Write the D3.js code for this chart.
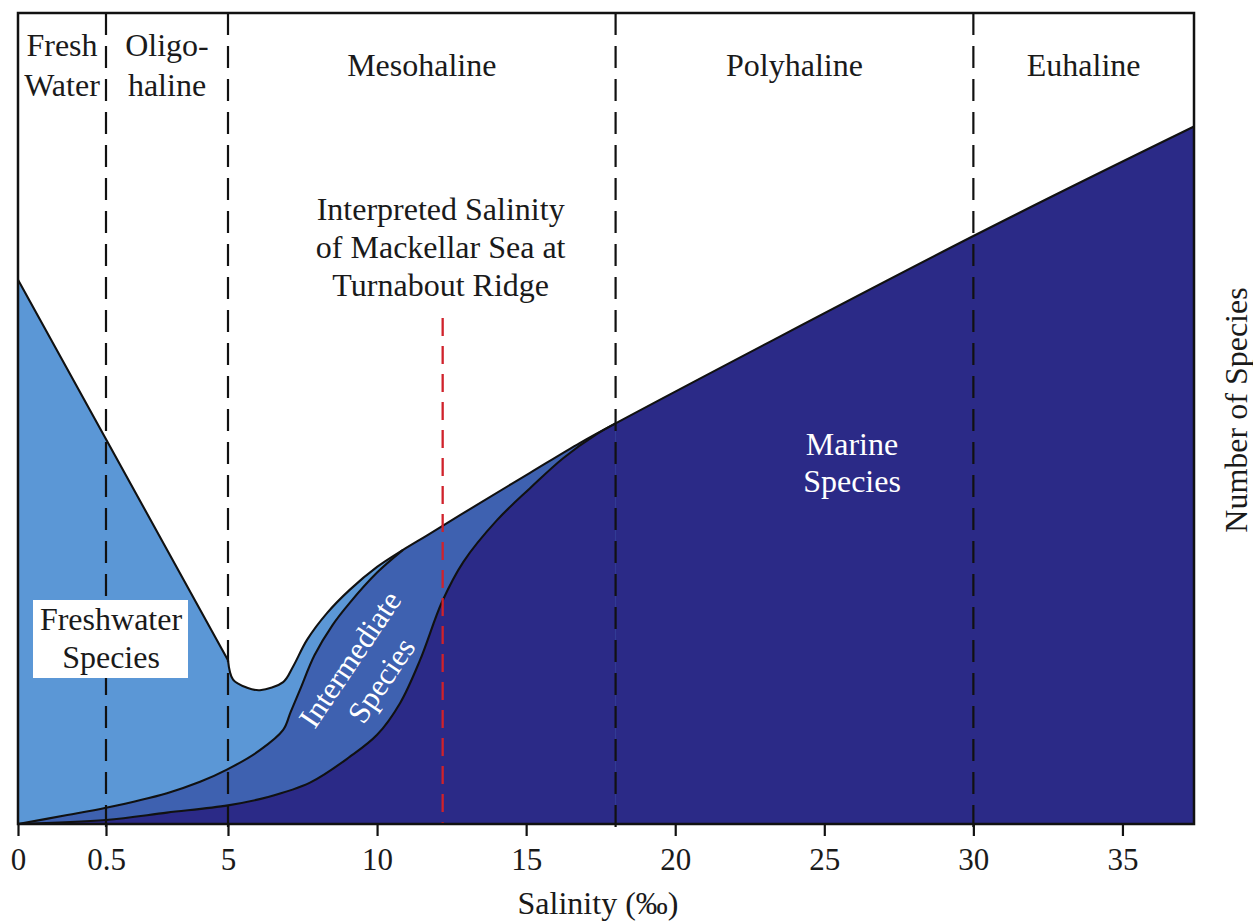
<!DOCTYPE html>
<html>
<head>
<meta charset="utf-8">
<script src="https://cdn.jsdelivr.net/npm/d3@7"></script>
<style>
  body { margin: 0; background: #fff; }
  svg text { font-family: "Liberation Serif", "Times New Roman", serif; fill: #1a1a1a; }
</style>
</head>
<body>
<svg id="chart"></svg>
<script>
// salinity (per mil) against number of species (relative units, the original has no y scale)
const ticks = [0, 0.5, 5, 10, 15, 20, 25, 30, 35];
const zoneEdges = [0, 0.5, 5, 18, 30, 37.4];
const zoneNames = [["Fresh", "Water"], ["Oligo-", "haline"], ["Mesohaline"], ["Polyhaline"], ["Euhaline"]];

// top curve, all species: straight decline to 5 then the curved rise
const allDecline = [[0, 67.1], [5, 20.2]];
const allRise = [[5, 20.2], [5.17, 17.8], [5.64, 16.8], [6.07, 16.5], [6.85, 17.5], [7.18, 19.4], [7.65, 22.7],
  [8.32, 26.0], [9.09, 28.9], [10.0, 31.7], [10.87, 33.8], [11.68, 35.6], [13.46, 39.6], [15.13, 43.3],
  [16.81, 47.0], [18, 49.4], [30, 72.5], [37.4, 86.0]];
// freshwater / intermediate boundary
const freshLimit = [[0, 0], [0.28, 1.1], [0.5, 2.0], [2.75, 3.8], [3.97, 5.2], [4.96, 6.7], [6.07, 9.1],
  [6.85, 11.6], [7.1, 13.8], [7.42, 16.6], [7.9, 20.8], [8.5, 24.5], [9.09, 27.3], [10.0, 31.0], [10.87, 33.8]];
// intermediate / marine boundary
const marineLimit = [[0, 0], [0.5, 0.5], [2.75, 1.4], [5, 2.3], [6.31, 3.3], [7.75, 5.1], [9.09, 8.3],
  [10.0, 11.0], [10.77, 14.9], [11.44, 20.2], [12.18, 27.4], [12.89, 32.3], [14.03, 37.5], [15.13, 41.4],
  [16.24, 45.1], [17.38, 48.1], [18, 49.4]];

const markerSalinity = 12.2;
const markerTop = 62.4;

const W = 1253, H = 921;
const pLeft = 18, pRight = 1194, pTop = 13, pBottom = 824;

const svg = d3.select('#chart').attr('width', W).attr('height', H);

const x = d3.scaleLinear().domain([0, 0.5, 5, 37.4]).range([pLeft, 106, 228, pRight]);
const y = d3.scaleLinear().domain([0, 100]).range([pBottom, pTop]);

const straight = d3.line().x(d => x(d[0])).y(d => y(d[1]));
const smooth = d3.line().x(d => x(d[0])).y(d => y(d[1])).curve(d3.curveCatmullRom.alpha(0.5));
const area = d3.area().x(d => x(d[0])).y0(y(0)).y1(d => y(d[1])).curve(d3.curveCatmullRom.alpha(0.5));

const topLine = straight(allDecline) + smooth(allRise).replace(/^M/, 'L');
const lastS = allRise[allRise.length - 1][0];
const topArea = topLine + `L${x(lastS)},${y(0)}L${x(0)},${y(0)}Z`;

const light = '#5b97d6', mid = '#3e61b0', dark = '#2b2a87';

// fills, everything clipped under the top curve
svg.append('clipPath').attr('id', 'under-all')
    .append('path').attr('d', topArea);

const fills = svg.append('g').attr('clip-path', 'url(#under-all)');
fills.append('rect')
    .attr('x', pLeft).attr('y', pTop).attr('width', pRight - pLeft).attr('height', pBottom - pTop)
    .attr('fill', light);
fills.append('path').attr('d', area(freshLimit)).attr('fill', mid);

const joinFresh = freshLimit[freshLimit.length - 1][0];
const joinMarine = marineLimit[marineLimit.length - 1][0];
fills.append('rect')
    .attr('x', x(joinFresh)).attr('y', pTop)
    .attr('width', x(joinMarine) - x(joinFresh)).attr('height', pBottom - pTop)
    .attr('fill', mid);
fills.append('path').attr('d', area(marineLimit)).attr('fill', dark);
fills.append('rect')
    .attr('x', x(joinMarine)).attr('y', pTop)
    .attr('width', pRight - x(joinMarine)).attr('height', pBottom - pTop)
    .attr('fill', dark);

// outlines
[topLine, smooth(freshLimit), smooth(marineLimit)].forEach(d => {
    svg.append('path')
        .attr('d', d)
        .attr('fill', 'none')
        .attr('stroke', '#111')
        .attr('stroke-width', 2.1)
        .attr('stroke-linejoin', 'round');
});

// zone boundaries
svg.selectAll('.zone-line')
    .data(zoneEdges.slice(1, -1))
    .enter()
    .append('line')
    .attr('class', 'zone-line')
    .attr('x1', d => x(d)).attr('x2', d => x(d))
    .attr('y1', pTop).attr('y2', pBottom + 12)
    .attr('stroke', '#111')
    .attr('stroke-width', 2.2)
    .attr('stroke-dasharray', '22,11');

// interpreted salinity marker
svg.append('line')
    .attr('x1', x(markerSalinity)).attr('x2', x(markerSalinity))
    .attr('y1', y(markerTop)).attr('y2', y(0))
    .attr('stroke', '#d0222b')
    .attr('stroke-width', 2.3)
    .attr('stroke-dasharray', '18,10');

// axis
const axis = svg.append('g')
    .attr('transform', `translate(0,${pBottom})`)
    .call(d3.axisBottom(x).tickValues(ticks).tickFormat(d => d).tickSize(12).tickPadding(12));
axis.select('.domain').remove();
axis.selectAll('.tick line').attr('stroke', '#111').attr('stroke-width', 2.2);
axis.selectAll('.tick text')
    .style('font-family', '"Liberation Serif", "Times New Roman", serif')
    .style('font-size', '31px')
    .attr('fill', '#1a1a1a');

// frame
svg.append('rect')
    .attr('x', pLeft).attr('y', pTop).attr('width', pRight - pLeft).attr('height', pBottom - pTop)
    .attr('fill', 'none')
    .attr('stroke', '#111')
    .attr('stroke-width', 2.5);

// zone names
zoneNames.forEach((names, i) => {
    const cx = x((zoneEdges[i] + zoneEdges[i + 1]) / 2);
    const y0 = names.length === 2 ? 56 : 76;
    names.forEach((t, j) => {
        svg.append('text')
            .attr('x', cx).attr('y', y0 + j * 40)
            .attr('text-anchor', 'middle')
            .style('font-size', '32px')
            .text(t);
    });
});

// interpreted salinity note
['Interpreted Salinity', 'of Mackellar Sea at', 'Turnabout Ridge'].forEach((t, i) => {
    svg.append('text')
        .attr('x', x(markerSalinity) - 2).attr('y', 220 + i * 38)
        .attr('text-anchor', 'middle')
        .style('font-size', '32px')
        .text(t);
});

// freshwater label with white box
svg.append('rect')
    .attr('x', 33).attr('y', 600).attr('width', 155).attr('height', 78)
    .attr('fill', '#fff');
['Freshwater', 'Species'].forEach((t, i) => {
    svg.append('text')
        .attr('x', 111).attr('y', 630 + i * 38)
        .attr('text-anchor', 'middle')
        .style('font-size', '32px')
        .text(t);
});

// intermediate label, rotated
const inter = svg.append('g').attr('transform', 'translate(366,670) rotate(-56)');
['Intermediate', 'Species'].forEach((t, i) => {
    inter.append('text')
        .attr('x', 0).attr('y', -9 + i * 38)
        .attr('text-anchor', 'middle')
        .style('font-size', '31px')
        .style('fill', '#fff')
        .text(t);
});

// marine label
['Marine', 'Species'].forEach((t, i) => {
    svg.append('text')
        .attr('x', 852).attr('y', 455 + i * 37)
        .attr('text-anchor', 'middle')
        .style('font-size', '32px')
        .style('fill', '#fff')
        .text(t);
});

// axis titles
svg.append('text')
    .attr('x', 598).attr('y', 914)
    .attr('text-anchor', 'middle')
    .style('font-size', '32px')
    .text('Salinity (‰)');

svg.append('text')
    .attr('transform', 'translate(1247,410) rotate(-90)')
    .attr('text-anchor', 'middle')
    .style('font-size', '32px')
    .text('Number of Species');
</script>
</body>
</html>
